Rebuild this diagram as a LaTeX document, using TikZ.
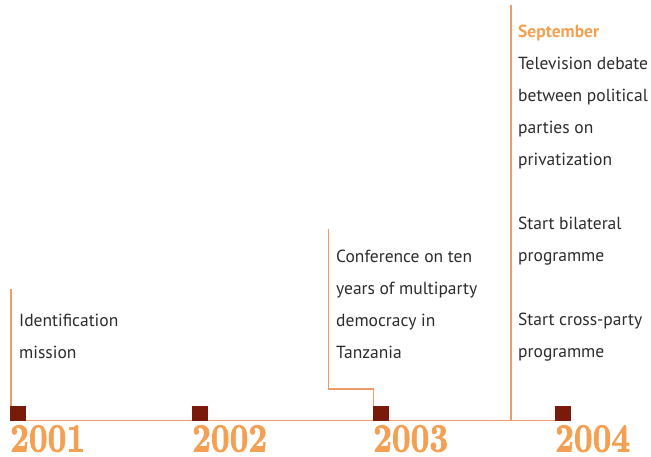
\documentclass[tikz,border=0pt]{standalone}
\usepackage{fontspec}
\setmainfont{PT Sans}
\newfontfamily\yearfont[FakeBold=2]{lmroman10-bold.otf}
\definecolor{lineor}{HTML}{F09A68}
\definecolor{yearor}{HTML}{F4A052}
\definecolor{sqred}{HTML}{7A1A0A}
\definecolor{txt}{HTML}{2B2B2B}
\tikzset{
  conn/.style={draw=lineor, line width=1.1pt},
  base/.style={draw=lineor, line width=1.2pt},
  sq/.style={fill=sqred, draw=none, minimum width=16pt, minimum height=15pt, inner sep=0pt, anchor=south west},
  year/.style={anchor=base west, inner sep=0pt, text=yearor, font=\fontsize{40}{40}\selectfont\yearfont},
  lbl/.style={anchor=base west, inner sep=0pt, text=txt, font=\fontsize{17.5}{32}\selectfont},
}
\newcommand{\yr}[1]{\scalebox{0.815}[1]{#1}}
\begin{document}
\begin{tikzpicture}[x=1pt,y=-1pt]
\useasboundingbox (0,0) rectangle (651,456);
% baseline
\coordinate (bl) at (10,420.5);
\coordinate (br) at (571,420.5);
\draw[base] (bl) -- (br);
% squares
\node[sq] (s1) at (10,421) {};
\node[sq] (s2) at (192,421) {};
\node[sq] (s3) at (373,421) {};
\node[sq] (s4) at (555,421) {};
% vertical connectors
\coordinate (t1) at (11,289);
\draw[conn] (t1) -- (s1.north west -| t1);
\coordinate (t3) at (328.5,229);
\coordinate (e3) at (328.5,389);
\coordinate (f3) at (373.5,389);
\draw[conn] (t3) -- (e3) -- (f3) -- (s3.north west -| f3);
\coordinate (t4) at (511,5);
\coordinate (b4) at (511,420.5);
\draw[conn] (t4) -- (b4);
% years
\node[year] (y1) at (10,451.5) {\yr{2001}};
\node[year] (y2) at (192,451.5) {\yr{2002}};
\node[year] (y3) at (373,451.5) {\yr{2003}};
\node[year] (y4) at (555,451.5) {\yr{2004}};
% texts
\node[lbl] (a1) at (19,326) {\parbox[t]{200pt}{Identification\\mission}};
\node[lbl] (a3) at (336,262) {\parbox[t]{200pt}{Conference on ten\\years of multiparty\\democracy in\\Tanzania}};
\node[lbl] (a4) at (518,37) {\parbox[t]{200pt}{\textcolor{yearor}{\bfseries September}\\Television debate\\between political\\parties on\\privatization}};
\node[lbl] (b4) at (518,229) {\parbox[t]{200pt}{Start bilateral\\programme}};
\node[lbl] (c4) at (518,325) {\parbox[t]{200pt}{Start cross-party\\programme}};
\end{tikzpicture}
\end{document}
